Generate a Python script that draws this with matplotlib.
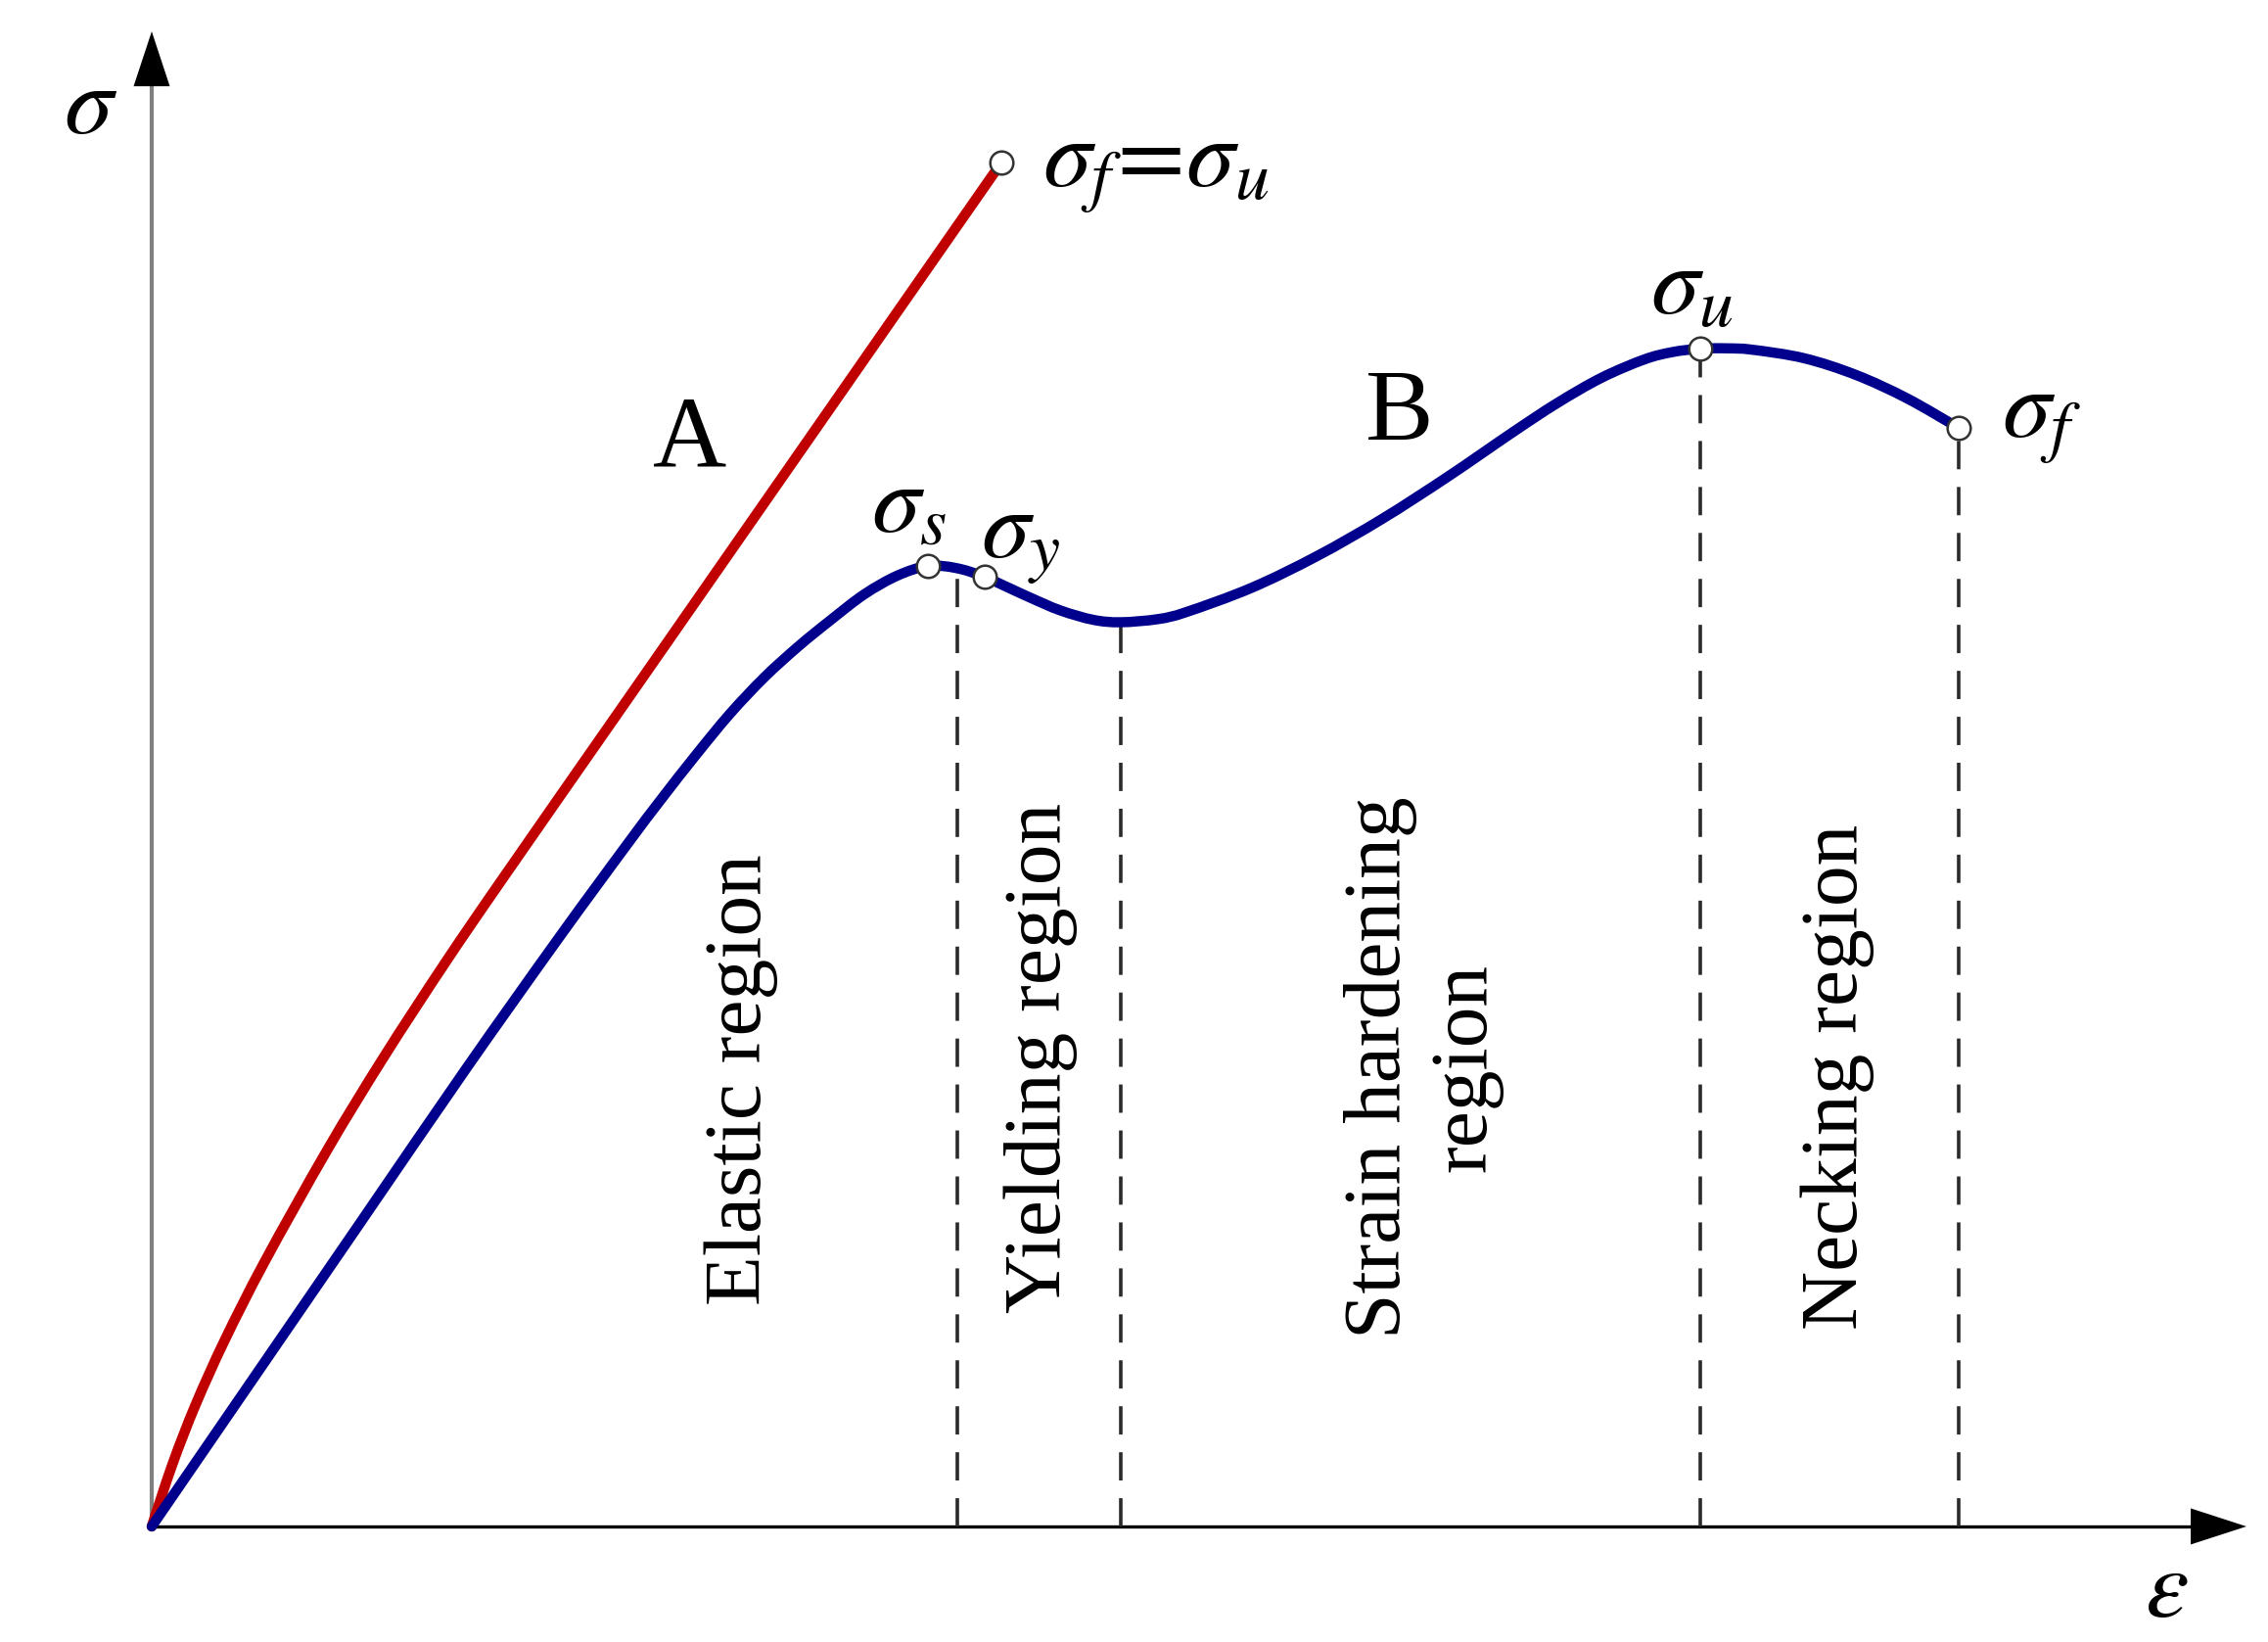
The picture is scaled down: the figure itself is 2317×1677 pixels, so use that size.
import matplotlib
matplotlib.use('Agg')
import matplotlib.pyplot as plt
from matplotlib.path import Path
from matplotlib.patches import PathPatch
import numpy as np

plt.rcParams['font.family'] = ['Liberation Serif', 'DejaVu Serif']
plt.rcParams['mathtext.fontset'] = 'stix'

# %% Données (unités arbitraires, axes 0-100)

# courbe A : matériau fragile
strain_a = [0, 1.0, 2.1, 3.5, 5.4, 8.4, 11.1, 14.0, 16.7, 22.66, 29.25, 35.79, 40.56]
stress_a = [0, 4.2, 8.16, 12.5, 17.73, 25.23, 31.44, 37.68, 43.22, 55.21, 68.47, 81.63, 91.22]

# courbe B : matériau ductile
strain_b = [0, 5, 10, 15, 19.4, 22.66, 24.3, 25.98, 27.6, 29.25, 30.9, 32.48, 34.02,
            35.6, 37.06, 38.41, 39.77, 41.82, 43.36, 44.95, 46.26, 48.04, 49.39,
            52.52, 55.65, 58.74, 61.87, 65.00, 67.10, 69.21, 71.26, 72.6, 73.93,
            75.2, 76.40, 78.88, 81.36, 83.79, 86.26]
stress_b = [0, 10.2, 20.4, 30.6, 39.3, 45.55, 48.6, 51.6, 54.35, 56.8, 58.9, 60.7,
            62.35, 63.6, 64.24, 64.1, 63.5, 62.2, 61.28, 60.64, 60.48, 60.69, 61.16,
            62.79, 64.92, 67.39, 70.21, 73.21, 75.14, 76.83, 78.06, 78.55, 78.78,
            78.8, 78.71, 78.14, 77.02, 75.46, 73.48]

# points remarquables
pts_x = [40.56, 37.06, 39.77, 73.93, 86.26]
pts_y = [91.22, 64.24, 63.5, 78.78, 73.48]

# limites des régions (pointillés)
limites = [38.46, 46.26, 73.93, 86.26]

regions = ['Elastic region', 'Yielding region', 'Strain hardening\nregion', 'Necking region']
regions_x = [28.13, 42.43, 60.70, 80.47]
regions_y = [29.86, 31.37, 30.71, 30.06]


def courbe_lisse(x, y):
    """Chemin de Bézier (Catmull-Rom) passant par les points lus"""
    p = np.column_stack([x, y]).astype(float)
    p_ext = np.vstack([p[0], p, p[-1]])
    verts = [p[0]]
    codes = [Path.MOVETO]
    for i in range(1, len(p_ext) - 2):
        p0, p1, p2, p3 = p_ext[i-1], p_ext[i], p_ext[i+1], p_ext[i+2]
        verts += [p1 + (p2 - p0) / 6, p2 - (p3 - p1) / 6, p2]
        codes += [Path.CURVE4] * 3
    return Path(verts, codes)


# %% Figure

fig = plt.figure(figsize=(23.17, 16.77), dpi=100)
ax = fig.add_axes([0, 0, 1, 1])
ax.set_xlim(-7.243, 101.03)
ax.set_ylim(-7.73, 102.10)
ax.axis('off')

# axes avec flèches
ax.plot([0, 0], [0, 96.4], color='#808080', lw=3.0, solid_capstyle='butt', zorder=1)
ax.plot([0, 97.4], [0, 0], color='black', lw=2.4, solid_capstyle='butt', zorder=1)
ax.fill([-0.864, 0.864, 0], [96.33, 96.33, 100], color='black', lw=0, zorder=2)
ax.fill([97.34, 97.34, 100], [-1.21, 1.21, 0], color='black', lw=0, zorder=2)

# pointillés verticaux
for xl in limites:
    yl = np.interp(xl, strain_b, stress_b)
    ax.plot([xl, xl], [0, yl], color='#2a2a2a', lw=2.6,
            linestyle=(0, (8, 5)), zorder=2)

# courbes
for sx, sy, col in [(strain_a, stress_a, '#C00000'), (strain_b, stress_b, '#00008C')]:
    ax.add_patch(PathPatch(courbe_lisse(sx, sy), facecolor='none', edgecolor=col,
                           lw=7.5, joinstyle='round', capstyle='round', zorder=3))
ax.plot(pts_x, pts_y, 'o', ms=17, mfc='white', mec='#333333', mew=1.8,
        linestyle='none', zorder=4)

# textes
fs_sig = 72
ax.text(-2.94, 94.76, r'$\sigma$', fontsize=fs_sig, ha='center', va='center')
ax.text(96.17, -4.45, r'$\varepsilon$', fontsize=fs_sig, ha='center', va='center')
ax.text(42.52, 90.64, r'$\sigma_f\!=\!\sigma_u$', fontsize=fs_sig, ha='left', va='center')
ax.text(36.17, 68.11, r'$\sigma_s$', fontsize=fs_sig, ha='center', va='center')
ax.text(41.50, 65.82, r'$\sigma_y$', fontsize=fs_sig, ha='center', va='center')
ax.text(73.55, 82.65, r'$\sigma_u$', fontsize=fs_sig, ha='center', va='center')
ax.text(90.23, 73.87, r'$\sigma_f$', fontsize=fs_sig, ha='center', va='center')

ax.text(25.70, 72.5, 'A', fontsize=75, ha='center', va='center')
ax.text(59.58, 74.3, 'B', fontsize=75, ha='center', va='center')

for txt, xr, yr in zip(regions, regions_x, regions_y):
    ax.text(xr, yr, txt, fontsize=60, rotation=90, ha='center', va='center',
            multialignment='center')

plt.savefig('out.png', dpi=100)
